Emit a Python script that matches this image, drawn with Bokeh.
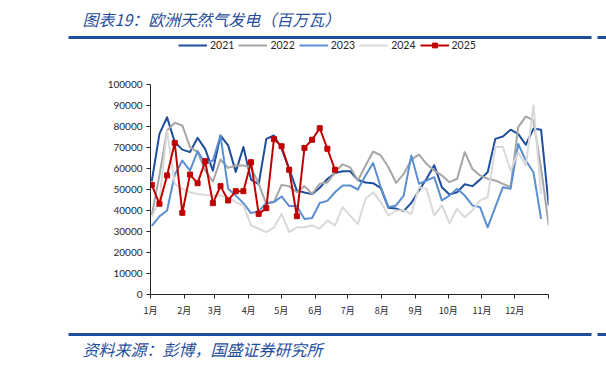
from bokeh.plotting import figure
from bokeh.models import (Legend, LegendItem, FixedTicker, NumeralTickFormatter, Range1d)
from bokeh.layouts import column
from bokeh.core.properties import value
from bokeh.embed import file_html
from bokeh.resources import INLINE

# ---------------- data ----------------
months = ["1月", "2月", "3月", "4月", "5月", "6月", "7月", "8月", "9月", "10月", "11月", "12月"]
month_start_days = [0, 31, 59, 90, 120, 151, 181, 212, 243, 273, 304, 334, 365]
y_ticks = [0, 10000, 20000, 30000, 40000, 50000, 60000, 70000, 80000, 90000, 100000]

s2021 = [54000, 76500, 84400, 72700, 69000, 67800, 74600, 69200, 59000, 75700,
         71000, 58400, 70200, 54700, 52500, 74100, 75700, 69500, 59800, 49500,
         48600, 47800, 50800, 55000, 57900, 58700, 58700, 54500, 53300, 53000,
         50700, 41300, 40900, 39700, 43600, 49500, 55100, 61500, 51100, 47600,
         48700, 52500, 51600, 54700, 58200, 74100, 75200, 78500, 76500, 71300,
         79000, 78400, 42400]
s2022 = [38000, 56700, 78100, 81800, 80500, 70200, 67800, 59000, 53800, 64300,
         60300, 61400, 61400, 60600, 52700, 43200, 44000, 52200, 51500, 48700,
         51600, 47900, 52700, 53300, 58200, 62000, 60500, 54300, 61400, 68100,
         66200, 60600, 53200, 57400, 64200, 66600, 62200, 59000, 56700, 53500,
         55100, 67800, 59800, 56700, 55100, 54300, 52700, 51100, 79700, 84800,
         82900, 60000, 33000]
s2023 = [32700, 37200, 40000, 57000, 63800, 59000, 68300, 62200, 63800, 75700,
         50300, 47100, 43500, 38800, 39600, 43600, 44000, 46700, 42100, 42100,
         36000, 36400, 43600, 44600, 48700, 51900, 51900, 50000, 56700, 62600,
         51100, 41600, 42400, 47100, 66200, 52700, 54300, 55900, 44800, 47100,
         50300, 47100, 42400, 41600, 32000, 41600, 51100, 50300, 71700, 63800,
         58200, 36000]
s2024 = [37000, 45000, 78000, 52700, 50300, 48700, 47900, 47400, 47100, 47100,
         46300, 44000, 42400, 32900, 31300, 29700, 32000, 38400, 29700, 32000,
         32000, 32900, 31300, 35200, 32900, 41600, 37500, 33600, 45600, 48700,
         44000, 37600, 40000, 40000, 38400, 51100, 50300, 37600, 42400, 34000,
         40800, 36800, 40000, 44800, 46300, 70200, 70200, 59000, 67800, 61400,
         90000, 47900]
s2025 = [52200, 43200, 56700, 72200, 38900, 57100, 53000, 63500, 43500, 51600,
         44800, 49200, 49200, 63000, 38400, 41100, 74000, 70600, 59400, 37300,
         69800, 73700, 79200, 69400, 59400]

series = [("2021", s2021, "#1f4e9c"),
          ("2022", s2022, "#a6a6a6"),
          ("2023", s2023, "#5b8fd2"),
          ("2024", s2024, "#d9d9d9"),
          ("2025", s2025, "#c00000")]

title_text = "图表19：欧洲天然气发电（百万瓦）"
source_text = "资料来源：彭博，国盛证券研究所"


def week_days(n):
    # weekly observations, day-of-year of each week
    return [1.2 + 7 * i for i in range(n)]


W = 606
TOP_H, MAIN_H, BOT_H = 78, 248, 40
blue = "#1f4e9c"
axc = "#262626"


def blank(h, y0):
    f = figure(width=W, height=h, output_backend="svg", toolbar_location=None,
               x_range=Range1d(0, W), y_range=Range1d(y0 + h, y0),
               x_axis_type=None, y_axis_type=None, frame_align=False,
               min_border=0, min_border_left=0, min_border_right=0,
               min_border_top=0, min_border_bottom=0)
    f.outline_line_color = None
    f.grid.visible = False
    f.background_fill_color = "white"
    f.border_fill_color = "white"
    return f


# ---------------- header ----------------
top = blank(TOP_H, 0)
top.text(x=[82], y=[18.5], text=[title_text], text_font=value("Noto Sans CJK SC"),
         text_font_size="16px", text_font_style="italic", text_color=blue,
         text_align="left", text_baseline="middle")
top.quad(left=[68, 597], right=[591, 606], top=[35.5, 35.5], bottom=[38.5, 38.5],
         fill_color=blue, line_color=None)

# legend proxies (lying outside the visible range, only their styles are used)
items = []
for name, vals, col in series:
    r = top.line([-60, -50], [-60, -60], line_color=col, line_width=2)
    rs = [r]
    if name == "2025":
        rs.append(top.scatter([-55], [-60], marker="square", size=5,
                              fill_color=col, line_color=col))
    items.append(LegendItem(label=name, renderers=rs))

legend = Legend(items=items, orientation="horizontal",
                location=(178, TOP_H - 51),
                padding=0, margin=0, spacing=4, label_standoff=3,
                glyph_width=29, glyph_height=12, label_height=12, label_width=10,
                border_line_color=None, background_fill_alpha=0,
                label_text_font="Lato", label_text_font_size="10.5px",
                label_text_color=axc)
top.add_layout(legend)

# ---------------- main chart ----------------
FL, FR = 150, 548
p = figure(width=W, height=MAIN_H, output_backend="svg", toolbar_location=None,
           x_range=Range1d(0, 365), y_range=Range1d(0, 100000), frame_align=False,
           min_border_left=FL, min_border_right=W - FR,
           min_border_top=6, min_border_bottom=32)
p.outline_line_color = None
p.grid.visible = False
p.background_fill_color = "white"
p.border_fill_color = "white"

for ax in (p.xaxis[0], p.yaxis[0]):
    ax.axis_line_color = axc
    ax.axis_line_width = 1
    ax.major_tick_line_color = axc
    ax.major_tick_in = 0
    ax.major_tick_out = 4
    ax.minor_tick_line_color = None
    ax.major_label_text_color = axc

p.xaxis.ticker = FixedTicker(ticks=month_start_days)
ov = {d: m for d, m in zip(month_start_days, months)}
ov[month_start_days[-1]] = ""
p.xaxis.major_label_overrides = ov
p.xaxis.major_label_text_font = "Noto Sans CJK SC"
p.xaxis.major_label_text_font_size = "9px"
p.xaxis.major_label_standoff = 5

p.yaxis.ticker = FixedTicker(ticks=y_ticks)
p.yaxis.formatter = NumeralTickFormatter(format="0")
p.yaxis.major_label_text_font = "Lato"
p.yaxis.major_label_text_font_size = "10px"
p.yaxis.major_label_standoff = 4

for name, vals, col in series:
    xs = week_days(len(vals))
    p.line(xs, vals, line_color=col, line_width=2, line_join="round")
    if name == "2025":
        p.scatter(xs, vals, marker="square", size=5, fill_color=col, line_color=col)

# ---------------- footer ----------------
bot = blank(BOT_H, TOP_H + MAIN_H)
bot.quad(left=[68, 597], right=[591, 606], top=[332.5, 332.5], bottom=[335.5, 335.5],
         fill_color=blue, line_color=None)
bot.text(x=[82], y=[348], text=[source_text], text_font=value("Noto Sans CJK SC"),
         text_font_size="16px", text_font_style="italic", text_color=blue,
         text_align="left", text_baseline="middle")

layout = column(top, p, bot, spacing=0)
open("out.html", "w").write(file_html(layout, INLINE))
